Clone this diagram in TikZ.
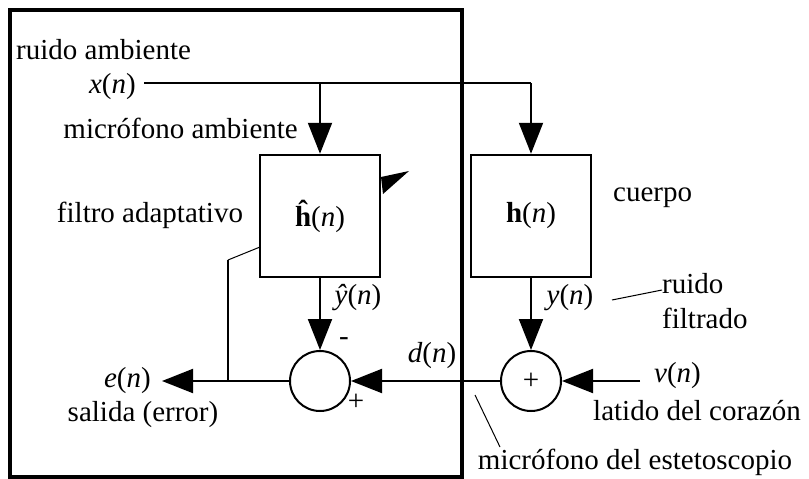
\documentclass[tikz,border=0pt]{standalone}
\usepackage{fontspec}
\setmainfont{Liberation Serif}
\usetikzlibrary{arrows.meta}
\begin{document}
\begin{tikzpicture}[x=1pt,y=-1pt,
  font=\fontsize{29}{33}\selectfont,
  sig/.style={line width=2pt, -{Triangle[length=31pt,width=24pt]}},
  wire/.style={line width=2pt},
  thin wire/.style={line width=1pt},
  block/.style={draw, line width=2.5pt, minimum width=120pt, minimum height=122pt, inner sep=0pt},
  adder/.style={draw, circle, line width=2pt, minimum size=60pt, inner sep=0pt},
  lbl/.style={inner sep=0pt}]
\useasboundingbox (0,0) rectangle (809,479);

% enclosing frame
\draw[line width=3.5pt] (10,10) rectangle (462,477);

% blocks and summing junctions
\node[block] (hh) at (320,216) {\textbf{ĥ}(\textit{n})};
\node[block] (h)  at (531,216) {\textbf{h}(\textit{n})};
\node[adder] (s1) at (320,381) {};
\node[adder] (s2) at (531,381) {+};

% adaptation mark
\fill (381,177) -- (409,171) -- (383,194) -- cycle;

% input signal
\node[lbl, anchor=west] (ra) at (16,50) {ruido ambiente};
\node[lbl, anchor=east] (x) at (136,87) {\textit{x}(\textit{n})};
\coordinate (xb) at (320,83);
\coordinate (xr) at (531,83);
\draw[wire] ([xshift=8pt]x.east |- xb) -- (xr);
\draw[sig] (xr) -- (h.north);
\draw[sig] (xb) -- (hh.north);
\node[lbl, anchor=east] (ma) at (298,128) {micrófono ambiente};

\node[lbl] (fa) at (150,215) {filtro adaptativo};
\node[lbl, anchor=west] (cu) at (613,198) {cuerpo};

% filter outputs
\draw[sig] (hh.south) -- (s1.north);
\draw[sig] (h.south) -- (s2.north);
\node[lbl] (yh) at (358,298) {\textit{ŷ}(\textit{n})};
\node[lbl] (y) at (570,298) {\textit{y}(\textit{n})};
\node[lbl, anchor=west] (rf1) at (662,284) {ruido};
\node[lbl, anchor=west] (rf2) at (662,318) {filtrado};
\draw[thin wire] (612,300) -- (rf1.west |- 0,290);

% signs at the error junction
\node[lbl] (minus) at (344,342) {-};
\node[lbl] (plus) at (356,402) {+};

% desired signal
\draw[sig] (s2.west) -- (s1.east);
\node[lbl] (d) at (432,356) {\textit{d}(\textit{n})};

% heartbeat input
\node[lbl, anchor=west] (v) at (654,376) {\textit{v}(\textit{n})};
\draw[sig] ([xshift=-14pt]v.west |- s2.east) -- (s2.east);
\node[lbl, anchor=west] (ld) at (593,411) {latido del corazón};

% stethoscope microphone
\node[lbl] (me) at (635,462) {micrófono del estetoscopio};
\draw[thin wire] (475,395) -- (500,447);

% error output and feedback to the filter
\node[lbl, anchor=east] (e) at (151,381) {\textit{e}(\textit{n})};
\draw[sig] (s1.west) -- ([xshift=11pt]e.east |- s1.west);
\node[lbl] (sal) at (143,415) {salida (error)};
\coordinate (tap) at (228,381);
\coordinate (knee) at (228,260);
\coordinate (fbin) at (260,247);
\draw[wire] (tap) -- (knee);
\draw[thin wire] (knee) -- (fbin);
\end{tikzpicture}
\end{document}
